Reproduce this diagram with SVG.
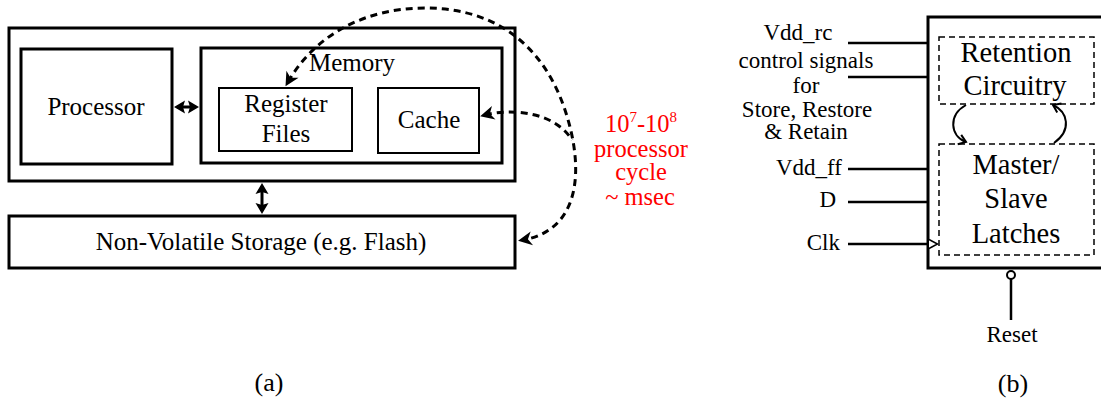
<svg xmlns="http://www.w3.org/2000/svg" width="1101" height="404" viewBox="0 0 1101 404">
<style>
text{font-family:"Liberation Serif","Times New Roman",serif;fill:#000}
.a{font-size:25px;text-anchor:middle}
.b{font-size:28.5px;text-anchor:middle}
.l{font-size:23px;text-anchor:middle}
.le{font-size:23px;text-anchor:end}
.cap{font-size:26px;text-anchor:middle}
.red{font-size:24.5px;text-anchor:middle;fill:#f00}
.box{fill:none;stroke:#000;stroke-width:3}
.thin{fill:none;stroke:#000;stroke-width:2}
.dbox{fill:none;stroke:#000;stroke-width:1.5;stroke-dasharray:6,4}
.dash{fill:none;stroke:#000;stroke-width:3;stroke-dasharray:7,5}
.sol{fill:none;stroke:#000;stroke-width:3}
.sig{fill:none;stroke:#000;stroke-width:2.5}
.cur{fill:none;stroke:#000;stroke-width:2}
</style>
<defs>
<marker id="big" markerUnits="userSpaceOnUse" markerWidth="30" markerHeight="30" viewBox="-15 -15 30 30" refX="0" refY="0" orient="auto-start-reverse">
<path d="M5,0 L-9,-7 L-5,0 L-9,7 z" fill="#000"/>
</marker>
<marker id="sm" markerUnits="userSpaceOnUse" markerWidth="24" markerHeight="24" viewBox="-12 -12 24 24" refX="0" refY="0" orient="auto-start-reverse">
<path d="M3,0 L-8,-6.5 L-6,0 L-8,6.5 z" fill="#000"/>
</marker>
<marker id="open" markerUnits="userSpaceOnUse" markerWidth="20" markerHeight="20" viewBox="-10 -10 20 20" refX="0" refY="0" orient="auto">
<path d="M-7,-5 L0,0 L-7,5" fill="none" stroke="#000" stroke-width="2"/>
</marker>
</defs>

<g id="panel-a">
<g id="system"><rect class="box" x="9" y="28" width="506" height="153"/></g>
<g id="processor"><rect class="box" x="21" y="49" width="151" height="115"/><text class="a" x="96" y="115">Processor</text></g>
<g id="memory"><rect class="box" x="201" y="48" width="301" height="115"/><text class="a" x="352" y="71">Memory</text></g>
<g id="register-files"><rect class="thin" x="219" y="88" width="133" height="63"/><text class="a" x="286" y="112">Register</text><text class="a" x="286" y="142">Files</text></g>
<g id="cache"><rect class="thin" x="378" y="88" width="101" height="65"/><text class="a" x="429" y="128">Cache</text></g>
<g id="nvs"><rect class="box" x="9" y="216" width="506" height="52"/><text class="a" x="261" y="250">Non-Volatile Storage (e.g. Flash)</text></g>
<g id="latency-label"><text class="red" x="641" y="132">10<tspan font-size="15" dy="-10">7</tspan><tspan dy="10">-10</tspan><tspan font-size="15" dy="-10">8</tspan></text><text class="red" x="641" y="157">processor</text><text class="red" x="641" y="180">cycle</text><text class="red" x="640" y="205">~ msec</text></g>
<text class="cap" x="269" y="391">(a)</text>
</g>

<g id="connectors">
<line class="sol" x1="177" y1="107" x2="196" y2="107" marker-start="url(#sm)" marker-end="url(#sm)"/>
<line class="sol" x1="262" y1="186" x2="262" y2="211" marker-start="url(#sm)" marker-end="url(#sm)"/>
<path class="dash" d="M288,82 C315,35 365,8 425,8 C500,8 545,50 565,110 C585,170 580,230 523,240" marker-start="url(#big)" marker-end="url(#big)"/>
<path class="dash" d="M485,115 C512,108 555,112 572,140" marker-start="url(#big)"/>
<path class="cur" d="M966,105 C948,115 950,136 966,142" marker-end="url(#open)"/>
<path class="cur" d="M1054,143 C1072,130 1068,112 1053,105" marker-end="url(#open)"/>
<line class="sig" x1="848" y1="43" x2="928" y2="43"/>
<line class="sig" x1="848" y1="77" x2="928" y2="77"/>
<line class="sig" x1="848" y1="169" x2="928" y2="169"/>
<line class="sig" x1="848" y1="202" x2="928" y2="202"/>
<line class="sig" x1="848" y1="244" x2="928" y2="244"/>
<line class="sig" x1="1011" y1="279" x2="1011" y2="320"/>
</g>

<g id="panel-b">
<g id="flipflop"><rect class="box" x="928" y="17" width="180" height="251"/>
<path d="M929,239.5 L937.5,244 L929,248.5" fill="#fff" stroke="#000" stroke-width="1.5"/>
<circle cx="1011" cy="275" r="4" fill="#fff" stroke="#000" stroke-width="2"/></g>
<g id="retention"><rect class="dbox" x="939" y="37" width="155" height="67"/><text class="b" x="1016" y="62">Retention</text><text class="b" x="1015" y="95">Circuitry</text></g>
<g id="latches"><rect class="dbox" x="939" y="144" width="155" height="111"/><text class="b" x="1016" y="174">Master/</text><text class="b" x="1016" y="208">Slave</text><text class="b" x="1016" y="243">Latches</text></g>
<g id="inputs">
<text class="l" x="798" y="40">Vdd_rc</text>
<text class="l" x="806" y="68">control signals</text>
<text class="l" x="806" y="93">for</text>
<text class="l" x="807" y="117">Store, Restore</text>
<text class="l" x="806" y="139">&amp; Retain</text>
<text class="le" x="842" y="175">Vdd_ff</text>
<text class="le" x="836" y="207">D</text>
<text class="le" x="840" y="250">Clk</text>
<text class="l" x="1012" y="342" font-size="22">Reset</text>
</g>
<text class="cap" x="1013" y="392">(b)</text>
</g>
</svg>
